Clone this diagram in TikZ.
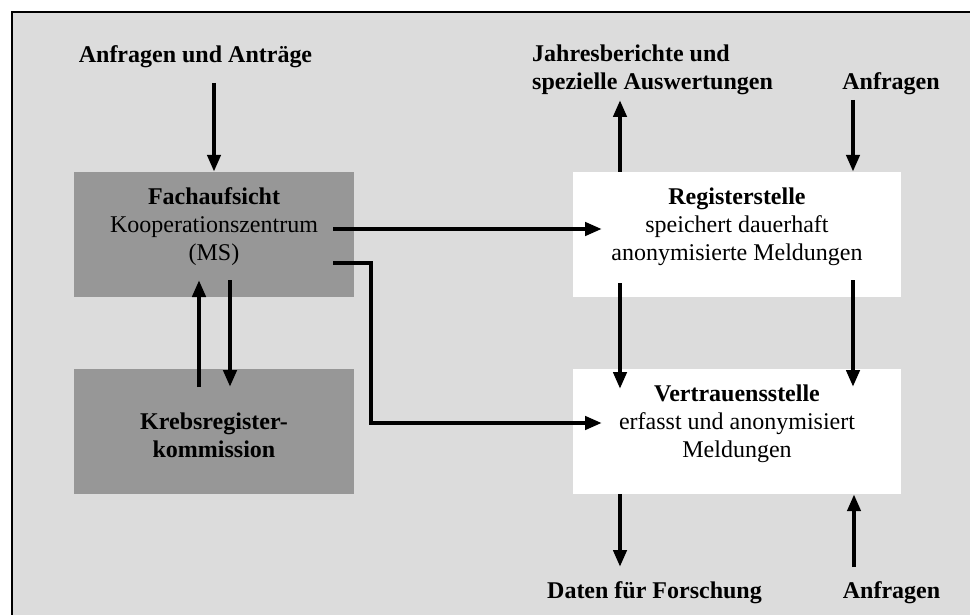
\documentclass[tikz,border=0pt]{standalone}
\usepackage{fontspec}
\setmainfont{Liberation Serif}
\usetikzlibrary{arrows.meta}
\definecolor{bggray}{RGB}{220,220,220}
\definecolor{boxgray}{RGB}{151,151,151}
\tikzset{
  darkbox/.style={fill=boxgray,draw=none,minimum width=280pt,minimum height=125pt,inner sep=0pt},
  whitebox/.style={fill=white,draw=none,minimum width=328pt,minimum height=125pt,inner sep=0pt},
  lbl/.style={inner sep=0pt,align=center,font=\fontsize{24}{28}\selectfont},
  arr/.style={line width=4.5pt,-{Triangle[length=17pt,width=13pt]}}
}
\begin{document}
\begin{tikzpicture}[x=1pt,y=-1pt]
\useasboundingbox (0,0) rectangle (970,615);
\fill[white] (0,0) rectangle (970,615);
\fill[bggray] (12,12) rectangle (970,615);
\draw[line width=2pt] (970,12) -- (12,12) -- (12,615);

% boxes
\node[darkbox] (fach) at (214,234.5) {};
\node[darkbox] (krebs) at (214,431.5) {};
\node[whitebox] (reg) at (737,234.5) {};
\node[whitebox] (vert) at (737,431.5) {};

% box texts (base = baseline of last line)
\node[lbl,anchor=base] (fachtxt) at (214,260) {\textbf{Fachaufsicht}\\Kooperationszentrum\\(MS)};
\node[lbl,anchor=base] (krebstxt) at (214,457) {\textbf{Krebsregister-}\\\textbf{kommission}};
\node[lbl,anchor=base] (regtxt) at (737,260) {\textbf{Registerstelle}\\speichert dauerhaft\\anonymisierte Meldungen};
\node[lbl,anchor=base] (verttxt) at (737,457) {\textbf{Vertrauensstelle}\\erfasst und anonymisiert\\Meldungen};

% outer labels
\node[lbl,anchor=base] (anf) at (195.5,63) {\textbf{Anfragen und Antr\"age}};
\node[lbl,anchor=base west,align=left] (jahr) at (532,90) {\textbf{Jahresberichte und}\\\textbf{spezielle Auswertungen}};
\node[lbl,anchor=base] (anfr1) at (891,90) {\textbf{Anfragen}};
\node[lbl,anchor=base] (daten) at (654.5,598) {\textbf{Daten f\"ur Forschung}};
\node[lbl,anchor=base] (anfr2) at (891.5,598) {\textbf{Anfragen}};

% connector end points
\coordinate (a1) at (214,83);
\coordinate (j1) at (620,100);
\coordinate (q1) at (853,100);
\coordinate (f1) at (333,229);
\coordinate (r1) at (602,229);
\coordinate (f2) at (333,263);
\coordinate (b2) at (371,263);
\coordinate (b3) at (371,423);
\coordinate (v2) at (602,423);
\coordinate (fu) at (199,280);
\coordinate (ku) at (199,387);
\coordinate (fd) at (230,280);
\coordinate (kd) at (230,387);
\coordinate (rl) at (620,283);
\coordinate (vl) at (620,389);
\coordinate (rr) at (853,280);
\coordinate (vr) at (853,387);
\coordinate (d1) at (620,567);
\coordinate (q2) at (854,567);

% connectors
\draw[arr] (a1) -- (fach.north);
\draw[arr] (reg.north -| j1) -- (j1);
\draw[arr] (q1) -- (reg.north -| q1);
\draw[arr] (f1) -- (r1);
\draw[arr] (f2) -- (b2) -- (b3) -- (v2);
\draw[arr] (ku) -- (fu);
\draw[arr] (fd) -- (kd);
\draw[arr] (rl) -- (vl);
\draw[arr] (rr) -- (vr);
\draw[arr] (vert.south -| d1) -- (d1);
\draw[arr] (q2) -- (vert.south -| q2);
\end{tikzpicture}
\end{document}
